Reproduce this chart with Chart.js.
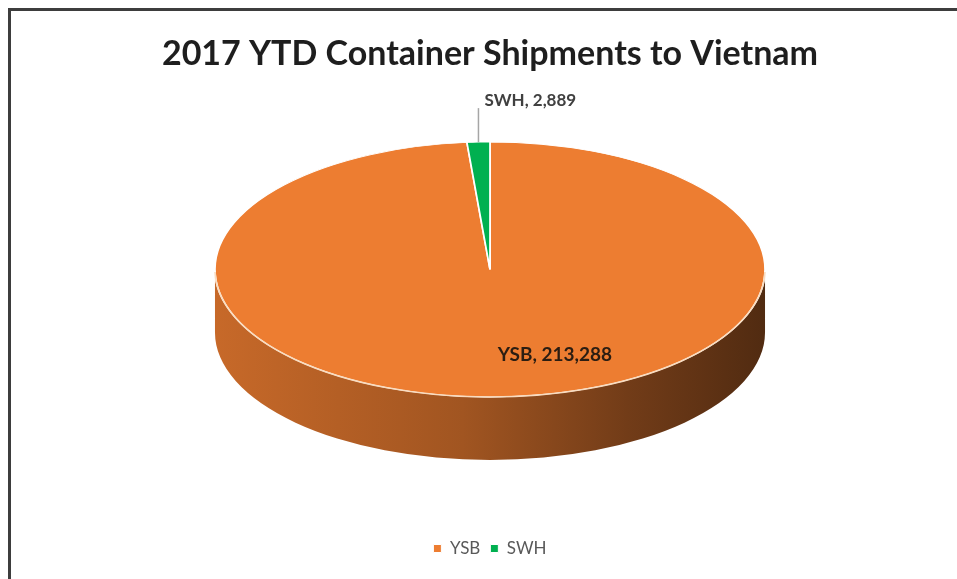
<!DOCTYPE html>
<html>
<head>
<meta charset="utf-8">
<script src="https://cdn.jsdelivr.net/npm/chart.js@4.4.0/dist/chart.umd.min.js"></script>
<style>
    html, body { margin: 0; padding: 0; background: #fff; overflow: hidden; }
    #frame { position: absolute; left: 8px; top: 8px; width: 1000px; height: 700px;
             border-left: 3px solid #3d3d3d; border-top: 3px solid #3d3d3d; }
    #wrap { position: absolute; left: 0; top: 0; width: 957px; height: 579px; }
</style>
</head>
<body>
<div id="frame"></div>
<div id="wrap"><canvas id="myChart" width="957" height="579"></canvas></div>
<script>
let labels = ['YSB', 'SWH'];
let shipments = [213288, 2889];
let colors = ['#ED7D31', '#00B050'];
let chartTitle = '2017 YTD Container Shipments to Vietnam';

// look of the 3d pie: height/width of the top face and thickness of the wall
let tilt = 0.4636;
let depth = 63;
let fontFamily = 'Lato, "Open Sans", sans-serif';

function shade(hex, f) {
    let n = parseInt(hex.slice(1), 16);
    let r = Math.round(((n >> 16) & 255) * f);
    let g = Math.round(((n >> 8) & 255) * f);
    let b = Math.round((n & 255) * f);
    return 'rgb(' + r + ',' + g + ',' + b + ')';
}

// where the flat pie ends up once it is tipped back
function pieGeometry(chart) {
    let a = chart.chartArea;
    let arc = chart.getDatasetMeta(0).data[0];
    let ry = (a.bottom - a.top - depth) / 2;
    return {
        x: (a.left + a.right) / 2,
        y: a.top + ry,
        rx: ry / tilt,
        ry: ry,
        r: arc.outerRadius,
        ax: arc.x,
        ay: arc.y
    };
}

function drawSide(ctx, g, arcs) {
    arcs.forEach((arc, i) => {
        // only the front half of the rim (0..PI) can be seen
        let a0 = Math.max(arc.startAngle, 0);
        let a1 = Math.min(arc.endAngle, Math.PI);
        if (a1 <= a0) return;
        let base = colors[i];
        let grad = ctx.createLinearGradient(g.x - g.rx, 0, g.x + g.rx, 0);
        grad.addColorStop(0, shade(base, 0.84));
        grad.addColorStop(0.45, shade(base, 0.68));
        grad.addColorStop(0.75, shade(base, 0.48));
        grad.addColorStop(1, shade(base, 0.34));
        ctx.beginPath();
        ctx.ellipse(g.x, g.y, g.rx, g.ry, 0, a0, a1, false);
        ctx.lineTo(g.x + g.rx * Math.cos(a1), g.y + g.ry * Math.sin(a1) + depth);
        ctx.ellipse(g.x, g.y + depth, g.rx, g.ry, 0, a1, a0, true);
        ctx.closePath();
        ctx.fillStyle = grad;
        ctx.fill();
    });
}

function drawLabels(ctx, g, arcs) {
    let total = shipments.reduce((s, v) => s + v, 0);
    arcs.forEach((arc, i) => {
        let mid = (arc.startAngle + arc.endAngle) / 2;
        let text = labels[i] + ', ' + shipments[i].toLocaleString('en-US');
        ctx.save();
        ctx.textAlign = 'left';
        ctx.textBaseline = 'middle';
        if (shipments[i] / total > 0.1) {
            ctx.font = 'bold 19px ' + fontFamily;
            ctx.fillStyle = '#2b1d12';
            ctx.fillText(text, g.x + g.rx * 0.67 * Math.cos(mid), g.y + g.ry * 0.67 * Math.sin(mid));
        } else {
            // small slice: label above the pie with a leader line
            let ex = g.x + g.rx * Math.cos(mid);
            let ey = g.y + g.ry * Math.sin(mid);
            let top = ey - 34;
            ctx.strokeStyle = '#a6a6a6';
            ctx.lineWidth = 1.5;
            ctx.beginPath();
            ctx.moveTo(ex, ey);
            ctx.lineTo(ex, top);
            ctx.stroke();
            ctx.font = 'bold 17px ' + fontFamily;
            ctx.fillStyle = '#404040';
            ctx.fillText(text, ex + 6, top - 8);
        }
        ctx.restore();
    });
}

let pie3d = {
    id: 'pie3d',
    beforeDatasetsDraw(chart) {
        let ctx = chart.ctx;
        let g = pieGeometry(chart);
        let arcs = chart.getDatasetMeta(0).data;
        drawSide(ctx, g, arcs);
        // squash the flat pie into the top face
        ctx.save();
        ctx.translate(g.x, g.y);
        ctx.scale(g.rx / g.r, g.ry / g.r);
        ctx.translate(-g.ax, -g.ay);
    },
    afterDatasetsDraw(chart) {
        let ctx = chart.ctx;
        ctx.restore();
        let g = pieGeometry(chart);
        let arcs = chart.getDatasetMeta(0).data;
        // light rim along the front edge of the top face
        ctx.save();
        ctx.strokeStyle = '#f9dcc0';
        ctx.lineWidth = 1.6;
        ctx.beginPath();
        ctx.ellipse(g.x, g.y, g.rx, g.ry, 0, 0.02, Math.PI - 0.02, false);
        ctx.stroke();
        ctx.restore();
        drawLabels(ctx, g, arcs);
    }
};

let config = {
    type: 'pie',
    data: {
        labels: labels,
        datasets: [{
            data: shipments,
            backgroundColor: colors,
            borderColor: '#ffffff',
            borderWidth: 1,
            clip: false
        }]
    },
    options: {
        responsive: false,
        animation: false,
        events: [],
        layout: { padding: { left: 23, right: 0, top: 0, bottom: 12 } },
        plugins: {
            title: {
                display: true,
                text: chartTitle,
                color: '#1e1e1e',
                font: { family: fontFamily, size: 34, weight: 'bold', lineHeight: 1.2 },
                padding: { top: 34, bottom: 67.2 }
            },
            legend: {
                position: 'bottom',
                title: { display: true, text: '', font: { size: 10, lineHeight: 1 }, padding: { top: 60, bottom: 0 } },
                labels: {
                    usePointStyle: true,
                    pointStyle: 'rect',
                    boxWidth: 8,
                    boxHeight: 8,
                    padding: 10,
                    color: '#595959',
                    font: { family: fontFamily, size: 17 }
                }
            },
            tooltip: { enabled: false }
        }
    },
    plugins: [pie3d]
};

let chart = new Chart(document.getElementById('myChart'), config);
</script>
</body>
</html>
